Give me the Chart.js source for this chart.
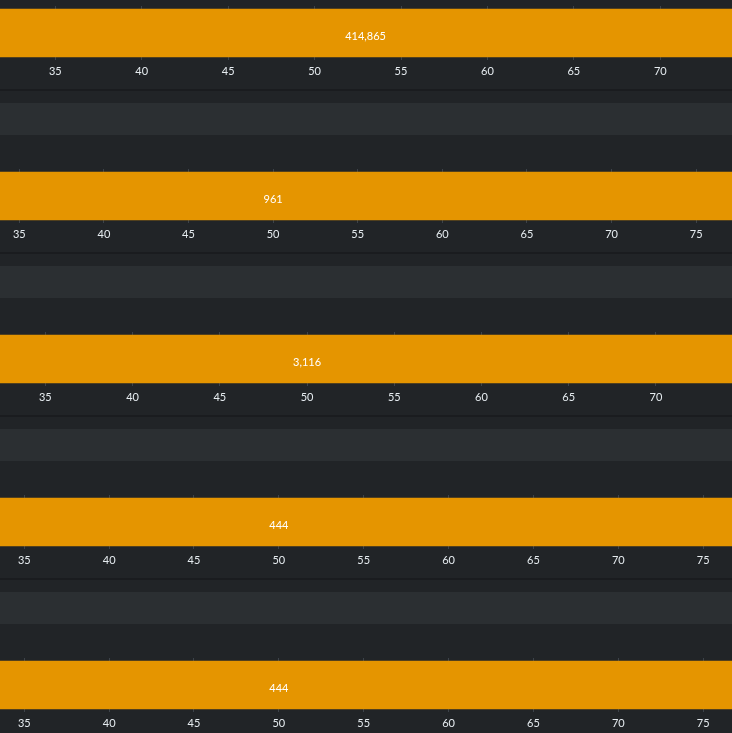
<!DOCTYPE html>
<html>
<head>
<meta charset="utf-8">
<script src="https://cdn.jsdelivr.net/npm/chart.js@4.4.0/dist/chart.umd.min.js"></script>
<style>
    html, body {
        margin: 0;
        padding: 0;
        width: 732px;
        height: 733px;
        overflow: hidden;
        background: #212427;
    }
    .panel-canvas {
        position: absolute;
        left: 0;
    }
    .separator {
        position: absolute;
        left: 0;
        width: 732px;
        height: 2px;
        background: #1a1c1f;
    }
    .stripe {
        position: absolute;
        left: 0;
        width: 732px;
        height: 32px;
        background: #2b2f32;
    }
</style>
</head>
<body>
<script>
// Values shown on each bar
const panelValues = [414865, 961, 3116, 444, 444];

// Visible x range of each panel
const axisMin = [31.80, 33.86, 32.40, 33.57, 33.57];
const axisMax = [74.15, 77.12, 74.36, 76.70, 76.70];

// Floating bar extent (runs past the visible range)
const barStart = [30, 20, 20, 20, 20];
const barEnd = [75.9, 80, 80, 80, 80];

// Tick labels on every x axis
const tickValues = [35, 40, 45, 50, 55, 60, 65, 70, 75];

// Layout: top edge of each bar in the page
const barTops = [9, 172, 335, 498, 661];

const ORANGE = '#e59500';
const FONT = 'Lato, "Open Sans", sans-serif';

/**
 * Draw the value label in the middle of the bar
 */
const valueLabelPlugin = {
    id: 'valueLabel',
    afterDatasetsDraw(chart, args, opts) {
        const ctx = chart.ctx;
        const xScale = chart.scales.x;
        const bar = chart.getDatasetMeta(0).data[0];
        const i = opts.index;
        const mid = (barStart[i] + barEnd[i]) / 2;
        ctx.save();
        ctx.fillStyle = '#ffffff';
        ctx.font = '11px ' + FONT;
        ctx.textAlign = 'center';
        ctx.textBaseline = 'middle';
        ctx.fillText(panelValues[i].toLocaleString('en-US'), xScale.getPixelForValue(mid), bar.y + 3);
        ctx.restore();
    }
};

barTops.forEach((top, i) => {
    // Decorations between panels
    const sep = document.createElement('div');
    sep.className = 'separator';
    sep.style.top = (top + 80) + 'px';
    document.body.appendChild(sep);

    const stripe = document.createElement('div');
    stripe.className = 'stripe';
    stripe.style.top = (top + 94) + 'px';
    document.body.appendChild(stripe);

    // Chart canvas
    const canvas = document.createElement('canvas');
    canvas.className = 'panel-canvas';
    canvas.width = 732;
    canvas.height = 86;
    canvas.style.top = (top - 6) + 'px';
    canvas.style.width = '732px';
    canvas.style.height = '86px';
    document.body.appendChild(canvas);

    new Chart(canvas.getContext('2d'), {
        type: 'bar',
        data: {
            labels: [''],
            datasets: [{
                data: [[barStart[i], barEnd[i]]],
                backgroundColor: ORANGE,
                borderWidth: 0,
                barThickness: 48
            }]
        },
        plugins: [valueLabelPlugin],
        options: {
            indexAxis: 'y',
            responsive: false,
            animation: false,
            devicePixelRatio: 1,
            layout: { padding: { top: 3, left: 0, right: 0, bottom: 0 } },
            plugins: {
                legend: { display: false },
                tooltip: { enabled: false },
                valueLabel: { index: i }
            },
            scales: {
                x: {
                    type: 'linear',
                    min: axisMin[i],
                    max: axisMax[i],
                    afterBuildTicks: (axis) => {
                        axis.ticks = tickValues
                            .filter(v => v >= axis.min && v <= axis.max)
                            .map(v => ({ value: v }));
                    },
                    afterFit: (axis) => {
                        axis.height = 29;
                    },
                    border: { display: false },
                    grid: {
                        color: '#3d434a',
                        lineWidth: 1,
                        drawTicks: false
                    },
                    ticks: {
                        color: '#e6ecf0',
                        padding: 5,
                        maxRotation: 0,
                        autoSkip: false,
                        font: { family: FONT, size: 11 }
                    }
                },
                y: {
                    display: false
                }
            }
        }
    });
});
</script>
</body>
</html>
